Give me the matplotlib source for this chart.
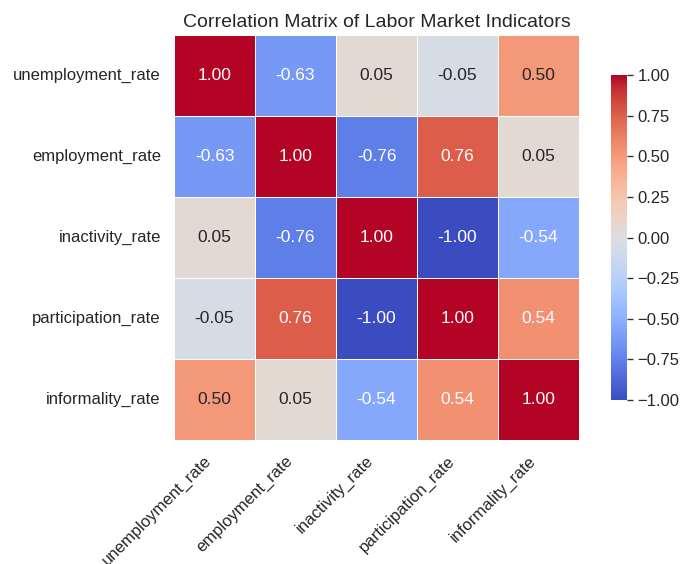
import matplotlib
matplotlib.use("Agg")
import matplotlib.pyplot as plt
import seaborn as sns
import numpy as np
import pandas as pd

labels = ["unemployment_rate", "employment_rate", "inactivity_rate", "participation_rate", "informality_rate"]
row_unemployment = [1.00, -0.63, 0.05, -0.05, 0.50]
row_employment = [-0.63, 1.00, -0.76, 0.76, 0.05]
row_inactivity = [0.05, -0.76, 1.00, -1.00, -0.54]
row_participation = [-0.05, 0.76, -1.00, 1.00, 0.54]
row_informality = [0.50, 0.05, -0.54, 0.54, 1.00]

corr = pd.DataFrame([row_unemployment, row_employment, row_inactivity, row_participation, row_informality],
                    index=labels, columns=labels)

sns.set_theme(style="white")
plt.rcParams['font.family'] = ['Liberation Sans', 'DejaVu Sans']

fig = plt.figure(figsize=(6.84, 5.64), dpi=100)
ax = fig.add_axes([174/684, (564-440)/564, 405/684, 405/564])
cax = fig.add_axes([611/684, (564-400)/564, 16/684, 325/564])

sns.heatmap(corr, annot=True, fmt=".2f", cmap="coolwarm", vmin=-1, vmax=1,
            square=True, linewidths=0.5, linecolor="white", ax=ax, cbar_ax=cax,
            annot_kws={"size": 12.5})
ax.set_title("Correlation Matrix of Labor Market Indicators", fontsize=14)
ax.set_xticklabels(ax.get_xticklabels(), rotation=45, ha="right", fontsize=12)
ax.set_yticklabels(ax.get_yticklabels(), rotation=0, fontsize=12)
cax.tick_params(labelsize=12, length=4, width=1, color="#333333")
fig.savefig("out.png", dpi=100)
